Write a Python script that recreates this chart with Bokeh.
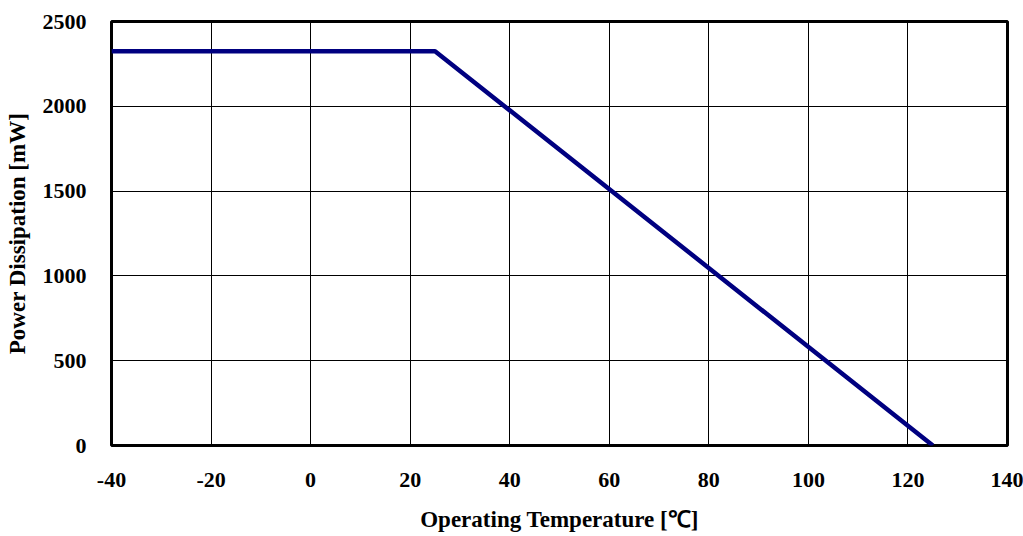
from bokeh.plotting import figure
from bokeh.models import Range1d, FixedTicker
from bokeh.embed import file_html
from bokeh.resources import INLINE

temperature = [-40, 25, 125]
power_mw = [2325, 2325, 0]
x_ticks = [-40, -20, 0, 20, 40, 60, 80, 100, 120, 140]
y_ticks = [0, 500, 1000, 1500, 2000, 2500]

p = figure(width=1023, height=536, output_backend="svg", toolbar_location=None,
           x_range=Range1d(-40, 140), y_range=Range1d(0, 2500),
           min_border_left=111, min_border_top=21, min_border_right=16, min_border_bottom=91)
p.background_fill_color = "white"
p.border_fill_color = "white"
p.outline_line_color = "black"
p.outline_line_width = 3

p.line(temperature, power_mw, line_color="#000080", line_width=4.5)

FONT = "Liberation Serif"
p.xaxis.ticker = FixedTicker(ticks=x_ticks)
p.yaxis.ticker = FixedTicker(ticks=y_ticks)
p.xaxis.major_label_overrides = {t: str(t) for t in x_ticks}
p.yaxis.major_label_overrides = {t: str(t) for t in y_ticks}
for ax in (p.xaxis[0], p.yaxis[0]):
    ax.axis_line_color = None
    ax.major_tick_line_color = None
    ax.minor_tick_line_color = None
    ax.major_label_text_font = FONT
    ax.major_label_text_font_style = "bold"
    ax.major_label_text_font_size = "22px"
    ax.major_label_text_color = "black"
    ax.axis_label_text_font = FONT
    ax.axis_label_text_font_style = "bold"
    ax.axis_label_text_font_size = "23px"
    ax.axis_label_text_color = "black"
p.xaxis.axis_label = "Operating Temperature [℃]"
p.yaxis.axis_label = "Power Dissipation [mW]"
p.xaxis.major_label_standoff = 21
p.yaxis.major_label_standoff = 19
p.xaxis.axis_label_standoff = 17
p.yaxis.axis_label_standoff = 10

p.xgrid.ticker = FixedTicker(ticks=x_ticks)
p.ygrid.ticker = FixedTicker(ticks=y_ticks)
p.grid.grid_line_color = "black"
p.grid.grid_line_width = 1
p.grid.grid_line_alpha = 1.0

open("out.html", "w").write(file_html(p, INLINE))
